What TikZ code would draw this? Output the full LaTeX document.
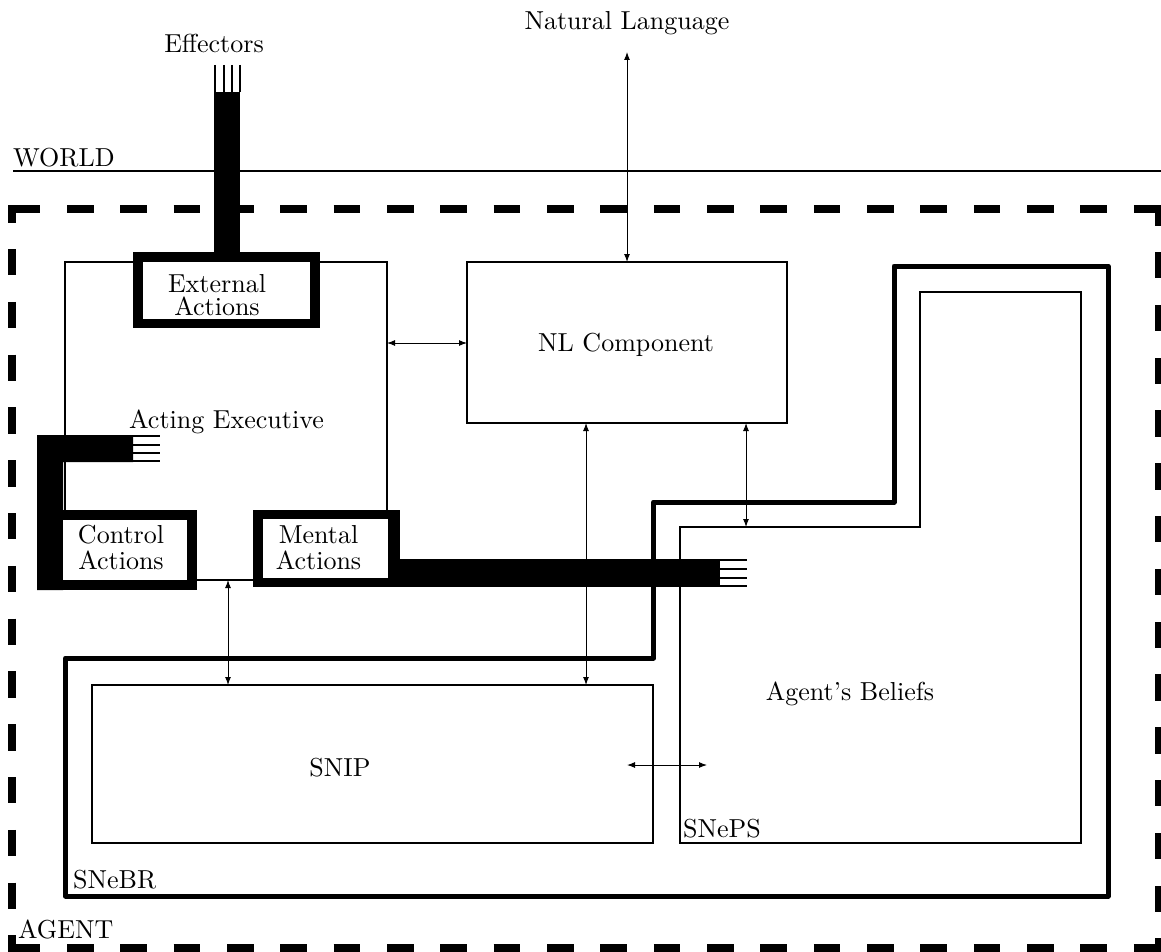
\documentclass[tikz,border=0pt]{standalone}
\usepackage{graphicx}
\usetikzlibrary{arrows.meta}
\newcommand{\lbl}[1]{\scalebox{2.6}{#1}}
\begin{document}
\begin{tikzpicture}[x=1pt,y=-1pt,
  boxline/.style={line width=1.4pt},
  combline/.style={line width=1.1pt},
  arr/.style={line width=1pt,{Latex[length=8pt,width=6pt]}-{Latex[length=8pt,width=6pt]}},
  snebrline/.style={line width=5pt,line join=round},
  hborder/.style={line width=7.5pt,dash pattern=on 26.67pt off 26.67pt,dash phase=51.67pt},
  lab/.style={inner sep=0pt,anchor=base},
  labw/.style={inner sep=0pt,anchor=base west}]
\useasboundingbox (0,0) rectangle (1161,952);

% ---------- WORLD line and AGENT border ----------
\coordinate (wl) at (13,171);
\coordinate (wr) at (1161,171);
\draw[line width=1.2pt] (wl) -- (wr);

\coordinate (btl) at (12,209);
\coordinate (btr) at (1159,209);
\coordinate (bbl) at (12,948);
\coordinate (bbr) at (1159,948);
\draw[hborder] (btl) -- (btr);
\draw[hborder] (bbl) -- (bbr);
\draw[line width=7.5pt,dash pattern=on 26.4pt off 26.4pt,dash phase=12.8pt] (btl) -- (bbl);
\draw[line width=7.5pt,dash pattern=on 26.4pt off 26.4pt,dash phase=9.8pt] (btr) -- (bbr);
\foreach \c in {btl,btr,bbl,bbr} \fill ([shift={(-3.75,-3.75)}]\c) rectangle ([shift={(3.75,3.75)}]\c);

% ---------- thin boxes ----------
\node[boxline,draw,minimum width=322pt,minimum height=318pt,inner sep=0pt] (ae) at (226,421) {};
\node[boxline,draw,minimum width=320pt,minimum height=161pt,inner sep=0pt] (nl) at (627,342.5) {};
\node[boxline,draw,minimum width=561pt,minimum height=158pt,inner sep=0pt] (snip) at (372.5,764) {};

% SNePS region
\draw[boxline,line join=miter] (680,527) -- (680,843) -- (1081,843) -- (1081,292) -- (920,292) -- (920,527) -- cycle;
% SNeBR region
\draw[snebrline] (65.5,658) -- (65.5,896) -- (1108,896) -- (1108,266) -- (894,266) -- (894,502) -- (653.5,502) -- (653.5,658) -- cycle;

% ---------- thick action boxes and channels ----------
% effectors channel
\fill (214,92) rectangle (240,253);
\foreach \x in {215,224,232,240} \draw[combline] (\x,65) -- (\x,92);
% External Actions
\fill (133,252) rectangle (320,328);
\fill[white] (143,262) rectangle (310,319);
% L-shaped channel into Acting Executive
\fill (37,435) -- (133,435) -- (133,462) -- (63,462) -- (63,590) -- (37,590) -- cycle;
\foreach \y in {436,445,453,461} \draw[combline] (133,\y) -- (160,\y);
% Control Actions
\fill (37,510) rectangle (197,590);
\fill[white] (63,520) rectangle (187,580);
% Mental Actions
\fill (253,510) rectangle (400,587);
\fill[white] (263,519) rectangle (388,578);
% channel from Mental Actions
\fill (400,559) rectangle (720,587);
\foreach \y in {560,569,578,586} \draw[combline] (720,\y) -- (747,\y);

% ---------- connectors ----------
\coordinate (natT) at (627,52);
\coordinate (nlTop) at (627,262);
\draw[arr] (natT) -- (nlTop);
\coordinate (aeR) at (387,343);
\coordinate (nlL) at (467,343);
\draw[arr] (aeR) -- (nlL);
\coordinate (nlB1) at (586,423);
\coordinate (snipT2) at (586,685);
\draw[arr] (nlB1) -- (snipT2);
\coordinate (nlB2) at (746,423);
\coordinate (snepsT) at (746,527);
\draw[arr] (nlB2) -- (snepsT);
\coordinate (aeB) at (228,580);
\coordinate (snipT1) at (228,685);
\draw[arr] (aeB) -- (snipT1);
\coordinate (snipR) at (627,765);
\coordinate (snepsL) at (707,765);
\draw[arr] (snipR) -- (snepsL);

% ---------- labels ----------
\node[lab] (tnat) at (627,30) {\lbl{Natural Language}};
\node[lab] (teff) at (214,53) {\lbl{Effectors}};
\node[labw] (tworld) at (13,167) {\lbl{WORLD}};
\node[lab] (text1) at (217,292) {\lbl{External}};
\node[lab] (text2) at (217,315.5) {\lbl{Actions}};
\node[lab] (tae) at (226.5,428) {\lbl{Acting Executive}};
\node[lab] (tctl1) at (121,543) {\lbl{Control}};
\node[lab] (tctl2) at (121,569) {\lbl{Actions}};
\node[lab] (tmen1) at (318.5,543) {\lbl{Mental}};
\node[lab] (tmen2) at (318.5,569) {\lbl{Actions}};
\node[lab] (tnl) at (626,351) {\lbl{NL Component}};
\node[lab] (tsnip) at (340,776) {\lbl{SNIP}};
\node[lab] (tbel) at (850,700) {\lbl{Agent's Beliefs}};
\node[labw] (tsnebr) at (73,888) {\lbl{SNeBR}};
\node[labw] (tsneps) at (683,837) {\lbl{SNePS}};
\node[labw] (tagent) at (18,938) {\lbl{AGENT}};
\end{tikzpicture}
\end{document}
